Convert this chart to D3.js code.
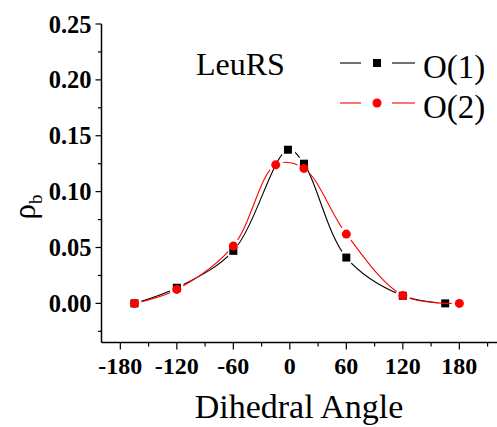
<!DOCTYPE html>
<html>
<head>
<meta charset="utf-8">
<script src="https://cdn.jsdelivr.net/npm/d3@7"></script>
<style>
  body { margin: 0; background: white; }
  text { font-family: "Liberation Serif", "Times New Roman", serif; }
</style>
</head>
<body>
<div id="container"></div>
<script>
let w = 497;
let h = 427;

// data
let angles1 = [-165, -120, -60, -2, 15, 60, 120, 165];
let rho1 = [0.000, 0.014, 0.047, 0.1375, 0.125, 0.041, 0.0068, 0.000];
let angles2 = [-165, -120, -60, -15, 15, 60, 120, 180];
let rho2 = [0.000, 0.0125, 0.0514, 0.124, 0.1208, 0.062, 0.0071, 0.000];
let xTicks = [-180, -120, -60, 0, 60, 120, 180];
let yTicks = [0.00, 0.05, 0.10, 0.15, 0.20, 0.25];
let seriesNames = ["O(1)", "O(2)"];

let viz = d3.select("#container").append("svg")
    .attr("width", w)
    .attr("height", h)
    .style("background-color", "white");

let x = d3.scaleLinear().domain([-200, 220]).range([101.5, 497]);
let y = d3.scaleLinear().domain([-0.035, 0.25]).range([342.5, 24]);

// axes
let xAxis = viz.append("g").attr("transform", "translate(0," + y(-0.035) + ")");
xAxis.append("line").attr("x1", x(-200)).attr("x2", x(220)).attr("stroke", "black").attr("stroke-width", 1.5);
xAxis.selectAll(".minor").data(d3.range(-150, 220, 60)).enter().append("line")
    .attr("x1", d => x(d)).attr("x2", d => x(d)).attr("y1", 0).attr("y2", 4)
    .attr("stroke", "black").attr("stroke-width", 1.2);
xAxis.selectAll(".major").data(xTicks).enter().append("line")
    .attr("x1", d => x(d)).attr("x2", d => x(d)).attr("y1", 0).attr("y2", 7)
    .attr("stroke", "black").attr("stroke-width", 1.2);
xAxis.selectAll(".lab").data(xTicks).enter().append("text")
    .attr("x", d => x(d)).attr("y", 31)
    .attr("text-anchor", "middle")
    .attr("font-size", 24).attr("font-weight", "bold")
    .text(d => d);

let yAxis = viz.append("g").attr("transform", "translate(" + x(-200) + ",0)");
yAxis.append("line").attr("y1", y(-0.035)).attr("y2", y(0.25)).attr("stroke", "black").attr("stroke-width", 1.5);
yAxis.selectAll(".minor").data([-0.025, 0.025, 0.075, 0.125, 0.175, 0.225]).enter().append("line")
    .attr("y1", d => y(d)).attr("y2", d => y(d)).attr("x1", 0).attr("x2", -3.5)
    .attr("stroke", "black").attr("stroke-width", 1.2);
yAxis.selectAll(".major").data(yTicks).enter().append("line")
    .attr("y1", d => y(d)).attr("y2", d => y(d)).attr("x1", 0).attr("x2", -6)
    .attr("stroke", "black").attr("stroke-width", 1.2);
yAxis.selectAll(".lab").data(yTicks).enter().append("text")
    .attr("x", -10).attr("y", d => y(d) + 8.5)
    .attr("text-anchor", "end")
    .attr("font-size", 24.5).attr("font-weight", "bold")
    .text(d => d.toFixed(2));

// axis titles
viz.append("text")
    .attr("x", 299).attr("y", 418)
    .attr("text-anchor", "middle")
    .attr("font-size", 34)
    .text("Dihedral Angle");

let yt = viz.append("text")
    .attr("transform", "translate(35,207) rotate(-90)")
    .attr("text-anchor", "middle")
    .attr("font-size", 31);
yt.append("tspan").text("ρ");
yt.append("tspan").attr("font-size", 19).attr("dy", 7).text("b");

// series
let series = [
  {xs: angles1, ys: rho1, color: "black", shape: "square"},
  {xs: angles2, ys: rho2, color: "red", shape: "circle"}
];

let defs = viz.append("defs");
let lineMaker = d3.line().x(d => x(d[0])).y(d => y(d[1])).curve(d3.curveCatmullRom.alpha(0.5));

series.forEach((s, k) => {
  let pts = s.xs.map((a, j) => [a, s.ys[j]]);
  let m = defs.append("mask").attr("id", "gap" + k).attr("maskUnits", "userSpaceOnUse")
      .attr("x", 0).attr("y", 0).attr("width", w).attr("height", h);
  m.append("rect").attr("width", w).attr("height", h).attr("fill", "white");
  m.selectAll("circle").data(pts).enter().append("circle")
      .attr("cx", d => x(d[0])).attr("cy", d => y(d[1])).attr("r", 7.5).attr("fill", "black");

  viz.append("path")
      .datum(pts)
      .attr("d", lineMaker)
      .attr("fill", "none")
      .attr("stroke", s.color)
      .attr("stroke-width", 1.1)
      .attr("mask", "url(#gap" + k + ")");

  if (s.shape == "square") {
    viz.selectAll(".sq" + k).data(pts).enter().append("rect")
        .attr("x", d => x(d[0]) - 4).attr("y", d => y(d[1]) - 4)
        .attr("width", 8).attr("height", 8).attr("fill", s.color);
  } else {
    viz.selectAll(".ci" + k).data(pts).enter().append("circle")
        .attr("cx", d => x(d[0])).attr("cy", d => y(d[1])).attr("r", 4.5).attr("fill", s.color);
  }
});

// label and legend
viz.append("text").attr("x", 196).attr("y", 75).attr("font-size", 32).text("LeuRS");

series.forEach((s, k) => {
  let ly = 63 + k * 40;
  let g = viz.append("g");
  g.append("line").attr("x1", 340).attr("x2", 361).attr("y1", ly).attr("y2", ly).attr("stroke", s.color).attr("stroke-width", 1.1);
  g.append("line").attr("x1", 392).attr("x2", 415).attr("y1", ly).attr("y2", ly).attr("stroke", s.color).attr("stroke-width", 1.1);
  if (s.shape == "square") {
    g.append("rect").attr("x", 373).attr("y", ly - 4).attr("width", 8).attr("height", 8).attr("fill", s.color);
  } else {
    g.append("circle").attr("cx", 377).attr("cy", ly).attr("r", 4.5).attr("fill", s.color);
  }
  g.append("text").attr("x", 423).attr("y", ly + 15).attr("font-size", 33).text(seriesNames[k]);
});
</script>
</body>
</html>
